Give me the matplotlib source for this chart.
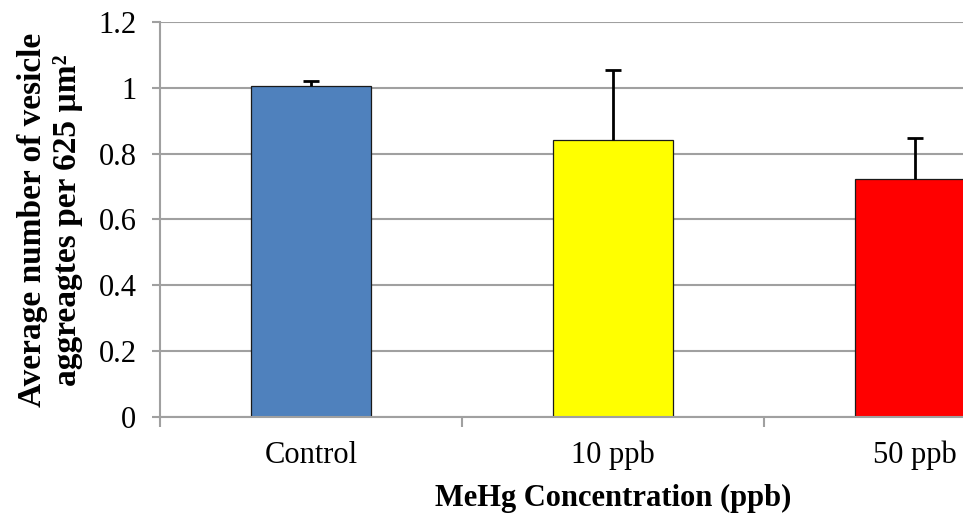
import matplotlib
matplotlib.use("Agg")
import matplotlib.pyplot as plt
import numpy as np

categories = ["Control", "10 ppb", "50 ppb"]
means = [1.006, 0.843, 0.724]
errors_up = [0.015, 0.211, 0.123]
bar_colors = ["#4F81BD", "#FFFF00", "#FF0000"]
y_ticks = [0, 0.2, 0.4, 0.6, 0.8, 1.0, 1.2]
y_tick_labels = ["0", "0.2", "0.4", "0.6", "0.8", "1", "1.2"]

plt.rcParams['font.family'] = ['Liberation Serif', 'DejaVu Serif']

fig = plt.figure(figsize=(9.63, 5.18), dpi=100)
W, H = 963, 518
ax = fig.add_axes([160 / W, (H - 417) / H, 906 / W, (417 - 22) / H])

x = np.arange(len(categories))
ax.bar(x, means, width=0.40, color=bar_colors, edgecolor="#1a1a1a",
       linewidth=0.9, zorder=3)
eb = ax.errorbar(x, means, yerr=[np.zeros(len(means)), errors_up], fmt="none",
                 ecolor="black", elinewidth=2, capsize=6, capthick=2, zorder=4)
# hide the lower caps (error bars only go upward)
for cl in eb[1]:
    yd = np.asarray(cl.get_ydata(), dtype=float)
    if np.allclose(yd, means):
        cl.set_visible(False)

ax.set_xlim(-0.5, 2.5)
ax.set_ylim(0, 1.2)
ax.set_yticks(y_ticks)
ax.set_yticklabels(y_tick_labels, fontsize=22)
ax.set_xticks(x)
ax.set_xticklabels(categories, fontsize=22)
ax.set_xticks([-0.5, 0.5, 1.5, 2.5], minor=True)

grid_c = "#A0A0A0"
ax.yaxis.grid(True, color=grid_c, linewidth=1.5, zorder=0)
ax.tick_params(axis="y", which="major", length=6, width=1.5, color=grid_c,
               pad=11)
ax.tick_params(axis="x", which="major", length=0, pad=17)
ax.tick_params(axis="x", which="minor", length=7, width=1.5, color=grid_c)

for s in ["top", "right"]:
    ax.spines[s].set_visible(False)
for s in ["left", "bottom"]:
    ax.spines[s].set_color(grid_c)
    ax.spines[s].set_linewidth(1.5)
ax.spines["bottom"].set_zorder(5)

fig.text(50 / W, 1 - 220 / H,
         "Average number of vesicle\naggreagtes per 625 µm²",
         rotation=90, ha="center", va="center", fontsize=24,
         fontweight="bold", multialignment="center", linespacing=1.15)
fig.text(613 / W, 1 - 506 / H, "MeHg Concentration (ppb)", ha="center",
         va="baseline", fontsize=22, fontweight="bold")

fig.savefig("out.png", dpi=100)
